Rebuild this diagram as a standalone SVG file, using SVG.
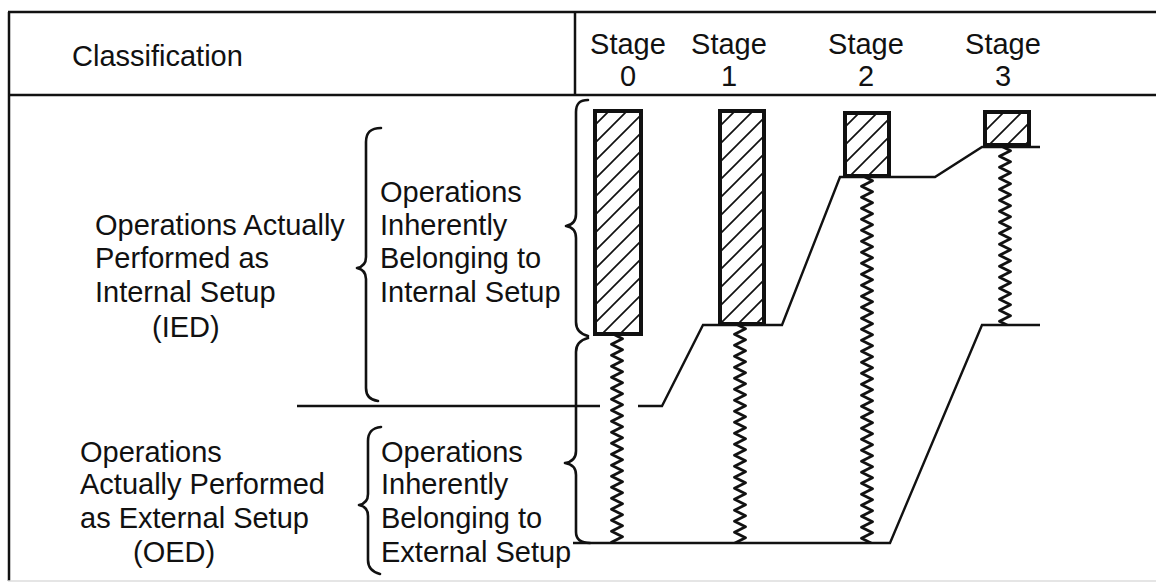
<svg xmlns="http://www.w3.org/2000/svg" width="1156" height="583" viewBox="0 0 1156 583">
<style>
  text { font-family: "Liberation Sans", Arial, sans-serif; font-size: 29px; fill: #111; }
  .frame { stroke: #111; stroke-width: 2.5; fill: none; }
  .brace { stroke: #111; stroke-width: 2.6; fill: none; stroke-linecap: round; stroke-linejoin: round; }
  .line { stroke: #111; stroke-width: 2.4; fill: none; stroke-linejoin: miter; }
  .bar { stroke: #111; stroke-width: 4; fill: url(#hatch); }
  .spring { fill: url(#spring); stroke: none; }
</style>
<defs>
  <pattern id="hatch" patternUnits="userSpaceOnUse" width="18" height="18">
    <rect width="18" height="18" fill="#fff"/>
    <path d="M0,18 L18,0 M-3,3 L3,-3 M15,21 L21,15" stroke="#111" stroke-width="1.7"/>
  </pattern>
  <pattern id="spring" patternUnits="userSpaceOnUse" width="16" height="11">
    <path d="M2.5,-2.75 L13.5,2.75 L2.5,8.25 L13.5,13.75" stroke="#111" stroke-width="2.8" fill="none" stroke-linejoin="round"/>
  </pattern>
</defs>
<rect width="1156" height="583" fill="#fff"/>

<g id="frame">
  <line class="frame" x1="8" y1="12" x2="1156" y2="12"/>
  <line class="frame" x1="9" y1="12" x2="9" y2="581"/>
  <line class="frame" x1="8" y1="95" x2="1156" y2="95"/>
  <line class="frame" x1="575" y1="12" x2="575" y2="95"/>
  <line x1="8" y1="581" x2="1156" y2="581" stroke="#ddd" stroke-width="1.5"/>
</g>

<g id="header">
  <text x="72" y="66">Classification</text>
  <text x="628" y="54" text-anchor="middle">Stage</text>
  <text x="628" y="86" text-anchor="middle">0</text>
  <text x="729" y="54" text-anchor="middle">Stage</text>
  <text x="729" y="86" text-anchor="middle">1</text>
  <text x="866" y="54" text-anchor="middle">Stage</text>
  <text x="866" y="86" text-anchor="middle">2</text>
  <text x="1003" y="54" text-anchor="middle">Stage</text>
  <text x="1003" y="86" text-anchor="middle">3</text>
</g>

<g id="ied-label">
  <text x="95" y="235">Operations Actually</text>
  <text x="95" y="268">Performed as</text>
  <text x="95" y="302">Internal Setup</text>
  <text x="152" y="337">(IED)</text>
</g>

<g id="inherent-internal">
  <path class="brace" d="M381,128 C371,128 366,132 366,142 L366,257 C366,264 362,267 357,268 C362,269 366,272 366,279 L366,388 C366,396 370,400 378,401"/>
  <text x="380" y="202">Operations</text>
  <text x="380" y="235">Inherently</text>
  <text x="380" y="268">Belonging to</text>
  <text x="380" y="302">Internal Setup</text>
</g>

<g id="oed-label">
  <text x="80" y="462">Operations</text>
  <text x="80" y="494">Actually Performed</text>
  <text x="80" y="528">as External Setup</text>
  <text x="133" y="562">(OED)</text>
</g>

<g id="inherent-external">
  <path class="brace" d="M381,427 C372,428 368,432 368,441 L368,494 C368,501 364,504 359,505 C364,506 368,509 368,516 L368,560 C368,568 372,572 380,574"/>
  <text x="381" y="462">Operations</text>
  <text x="381" y="494">Inherently</text>
  <text x="381" y="528">Belonging to</text>
  <text x="381" y="562">External Setup</text>
</g>

<g id="stage-braces">
  <path class="brace" d="M588,100 C579,100 576,104 576,112 L576,214 C576,221 572,225 566,226 C572,227 576,231 576,238 L576,322 C576,330 580,334 588,336"/>
  <path class="brace" d="M588,338 C580,340 576,344 576,352 L576,451 C576,458 572,462 565,463 C572,464 576,468 576,475 L576,532 C576,539 580,543 590,543"/>
</g>

<g id="stage0">
  <rect class="bar" x="595" y="111" width="46" height="223"/>
  <g transform="translate(609,336)"><rect class="spring" x="0" y="0" width="16" height="207"/></g>
</g>
<g id="stage1">
  <rect class="bar" x="720" y="111" width="44" height="213"/>
  <g transform="translate(732,326)"><rect class="spring" x="0" y="0" width="16" height="217"/></g>
</g>
<g id="stage2">
  <rect class="bar" x="845" y="113" width="44" height="63"/>
  <g transform="translate(859,178)"><rect class="spring" x="0" y="0" width="16" height="365"/></g>
</g>
<g id="stage3">
  <rect class="bar" x="985" y="112" width="44" height="33"/>
  <g transform="translate(997,148)"><rect class="spring" x="0" y="0" width="16" height="177"/></g>
</g>

<g id="connectors">
  <line class="line" x1="297" y1="406" x2="600" y2="406"/>
  <polyline class="line" points="638,406 662,406 703,325 782,325 840,177 935,177 982,147 1040,147"/>
  <polyline class="line" points="573,543 890,543 982,325 1040,325"/>
</g>
</svg>
